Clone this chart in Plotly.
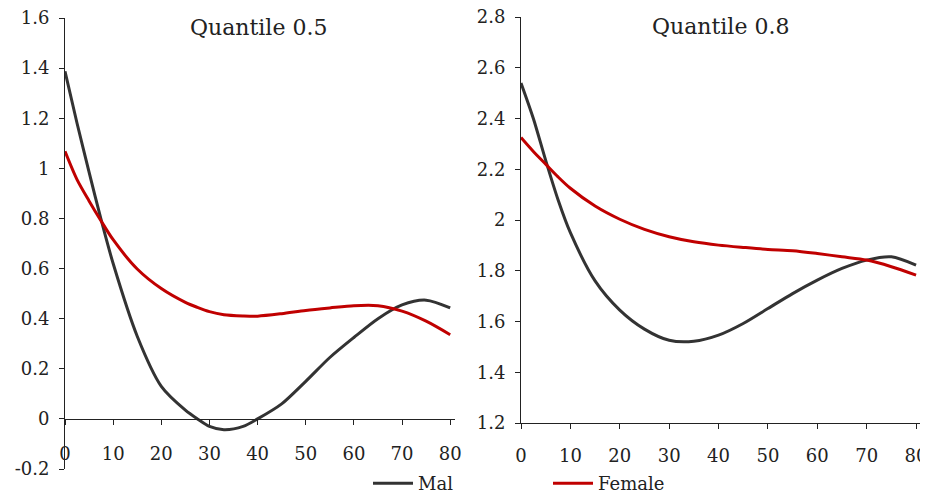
import plotly.graph_objects as go

# ---- data ----
x_vals = [0, 2.5, 5, 7.5, 10, 15, 20, 25, 27.5, 30, 33, 37, 40, 45, 50, 55, 60, 65, 70, 75, 80]
male_q50 = [1.387, 1.18, 0.985, 0.795, 0.62, 0.33, 0.13, 0.035, 0.0, -0.03, -0.043, -0.03, 0.0,
            0.06, 0.15, 0.245, 0.325, 0.40, 0.455, 0.474, 0.443]
female_q50 = [1.068, 0.955, 0.87, 0.79, 0.715, 0.598, 0.52, 0.465, 0.445, 0.428, 0.416, 0.411, 0.41,
              0.42, 0.433, 0.443, 0.452, 0.452, 0.43, 0.39, 0.336]

x_vals2 = [0, 2.5, 5, 7.5, 10, 15, 20, 25, 30, 35, 40, 45, 50, 55, 60, 65, 70, 75, 80]
male_q80 = [2.54, 2.40, 2.235, 2.08, 1.95, 1.76, 1.645, 1.57, 1.526, 1.522, 1.546, 1.592,
            1.651, 1.71, 1.763, 1.809, 1.842, 1.855, 1.822]
female_q80 = [2.325, 2.27, 2.22, 2.17, 2.125, 2.055, 2.003, 1.963, 1.934, 1.914, 1.901, 1.892,
              1.884, 1.879, 1.868, 1.855, 1.842, 1.816, 1.783]

x_ticks = [0, 10, 20, 30, 40, 50, 60, 70, 80]
y_ticks1 = [-0.2, 0, 0.2, 0.4, 0.6, 0.8, 1, 1.2, 1.4, 1.6]
y_ticks2 = [1.2, 1.4, 1.6, 1.8, 2, 2.2, 2.4, 2.6, 2.8]
titles = ["Quantile 0.5", "Quantile 0.8"]
series_names = ["Mal", "Female"]

MALE_C = "#333333"
FEMALE_C = "#c00000"
FONT = "DejaVu Serif"

# the page body adds an 8px margin, so the figure is drawn 8px in from the corner
OFF = 8
W, H = 928 - OFF, 493 - OFF


def px_x(p):
    return (p - OFF) / W


def px_y(p):
    return (H - (p - OFF)) / H


fig = go.Figure()
fig.add_trace(go.Scatter(x=x_vals, y=male_q50, mode="lines", name=series_names[0],
                         line=dict(color=MALE_C, width=3, shape="spline", smoothing=0.8),
                         xaxis="x", yaxis="y", legendrank=1))
fig.add_trace(go.Scatter(x=x_vals, y=female_q50, mode="lines", name=series_names[1],
                         line=dict(color=FEMALE_C, width=3, shape="spline", smoothing=0.8),
                         xaxis="x", yaxis="y", legendrank=2))
fig.add_trace(go.Scatter(x=x_vals2, y=male_q80, mode="lines", name=series_names[0], showlegend=False,
                         line=dict(color=MALE_C, width=3, shape="spline", smoothing=0.8),
                         xaxis="x2", yaxis="y2"))
fig.add_trace(go.Scatter(x=x_vals2, y=female_q80, mode="lines", name=series_names[1], showlegend=False,
                         line=dict(color=FEMALE_C, width=3, shape="spline", smoothing=0.8),
                         xaxis="x2", yaxis="y2"))

tickfont = dict(family=FONT, size=18, color="#222222")
axis_common = dict(showgrid=False, zeroline=False, showline=True, linecolor="#222222", linewidth=1,
                   ticks="outside", ticklen=5, tickcolor="#222222", tickfont=tickfont,
                   automargin=False, ticklabeloverflow="allow")

# left panel pixel geometry (screenshot pixels)
lx0, lx1 = 65, 455
ly_top, ly_bot = 18, 469
y0_pix = 419
# right panel
rx0, rx1 = 521, 921
ry_top, ry_bot = 17, 423

fig.update_layout(
    width=W, height=H,
    margin=dict(l=0, r=0, t=0, b=0, autoexpand=False),
    paper_bgcolor="white", plot_bgcolor="white",
    font=dict(family=FONT, color="#222222"),
    xaxis=dict(domain=[px_x(lx0), px_x(lx1)], range=[0, 81], tickvals=x_ticks,
               ticktext=[str(v) for v in x_ticks],
               anchor="free", position=px_y(y0_pix), ticklabelstandoff=13, **axis_common),
    yaxis=dict(domain=[px_y(ly_bot), px_y(ly_top)], range=[-0.2, 1.6], tickvals=y_ticks1,
               ticktext=[f"{v:g}" for v in y_ticks1],
               anchor="x", ticklabelstandoff=6, **axis_common),
    xaxis2=dict(domain=[px_x(rx0), px_x(rx1)], range=[0, 81], tickvals=x_ticks,
                ticktext=[str(v) for v in x_ticks],
                anchor="y2", ticklabelstandoff=11, **axis_common),
    yaxis2=dict(domain=[px_y(ry_bot), px_y(ry_top)], range=[1.2, 2.8], tickvals=y_ticks2,
                ticktext=[f"{v:g}" for v in y_ticks2],
                anchor="x2", ticklabelstandoff=6, **axis_common),
    legend=dict(orientation="h", x=px_x(368), y=px_y(502), xanchor="left", yanchor="bottom",
                entrywidth=125, entrywidthmode="pixels", bgcolor="rgba(0,0,0,0)",
                font=dict(family=FONT, size=18, color="#222222"), itemwidth=40, tracegroupgap=0),
    annotations=[
        dict(text=titles[0], x=px_x(258), y=px_y(28), xref="paper", yref="paper",
             xanchor="center", yanchor="middle",
             showarrow=False, font=dict(family=FONT, size=22, color="#222222")),
        dict(text=titles[1], x=px_x(720), y=px_y(27), xref="paper", yref="paper",
             xanchor="center", yanchor="middle",
             showarrow=False, font=dict(family=FONT, size=22, color="#222222")),
    ],
)

fig.write_html("out.html")
